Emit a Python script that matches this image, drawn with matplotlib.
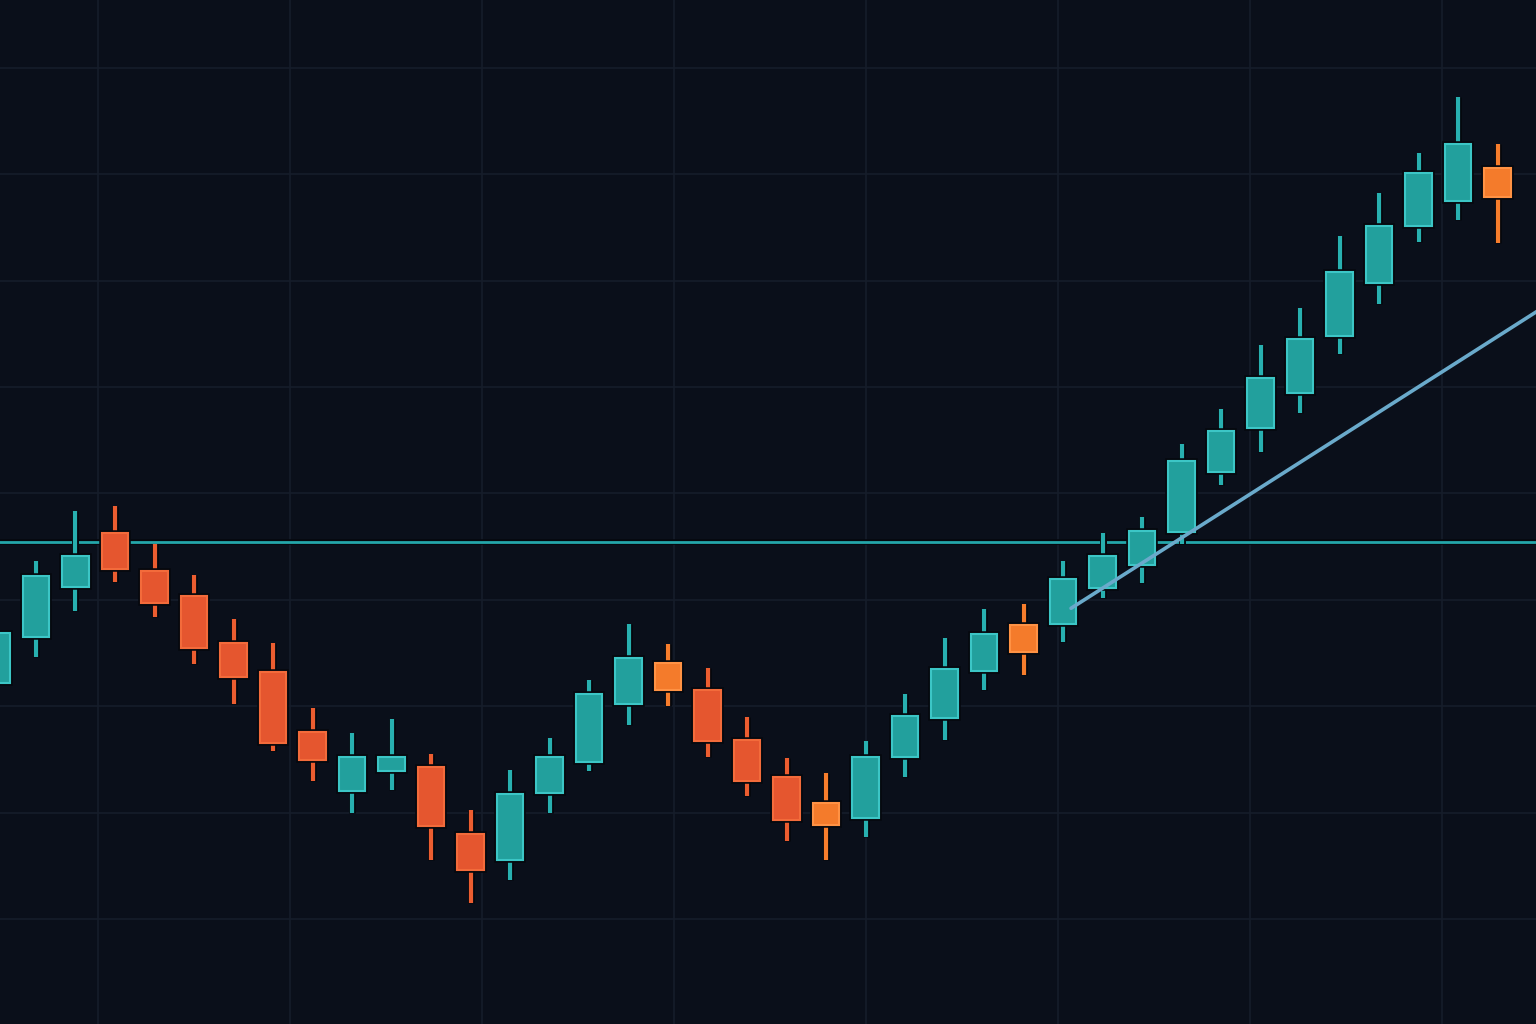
import matplotlib
matplotlib.use("Agg")
import matplotlib.pyplot as plt
import matplotlib.patheffects as pe
import numpy as np

# candle data (index = session)
opens = [122.2, 126.5, 131.2, 136.3, 132.7, 130.4, 125.9, 123.2, 117.6, 112.0,
         113.9, 114.3, 108.0, 105.5, 111.8, 114.8, 120.2, 124.1, 121.5, 116.8,
         113.3, 110.9, 109.5, 115.2, 118.9, 123.3, 127.6, 127.7, 131.1, 133.3,
         136.4, 142.0, 146.1, 149.4, 154.8, 159.8, 165.1, 167.5, 170.6]
highs = [128.0, 133.6, 138.3, 138.8, 135.2, 132.3, 128.2, 125.9, 119.8, 117.5,
         118.8, 115.5, 110.2, 114.0, 117.0, 122.5, 127.7, 125.8, 123.6, 119.0,
         115.1, 113.7, 116.7, 121.1, 126.4, 129.1, 129.6, 133.6, 136.3, 137.8,
         144.6, 147.9, 153.9, 157.4, 164.2, 168.2, 172.0, 177.3, 172.8]
lows = [121.0, 124.6, 128.9, 131.7, 128.4, 124.0, 120.2, 115.8, 113.0, 110.0,
        112.1, 105.5, 101.5, 103.7, 110.0, 113.9, 118.2, 120.0, 115.2, 111.6,
        107.3, 105.5, 107.7, 113.3, 116.8, 121.5, 122.9, 126.0, 130.2, 131.6,
        135.2, 140.8, 143.9, 147.6, 153.1, 157.8, 163.6, 165.7, 163.5]
closes = [126.9, 132.2, 134.1, 132.9, 129.7, 125.5, 122.7, 116.5, 114.9, 115.2,
          115.2, 108.7, 104.6, 111.7, 115.2, 121.1, 124.5, 121.5, 116.7, 113.0,
          109.3, 108.8, 115.2, 119.1, 123.5, 126.8, 125.1, 132.0, 134.1, 136.5,
          143.0, 145.9, 150.8, 154.5, 160.8, 165.1, 170.1, 172.8, 167.9]
# bearish candles drawn in the lighter orange tone
orange_idx = [17, 21, 26, 38]

level = 135.4
trend_x = [27.2, 39.5]
trend_y = [129.2, 158.3]

bg = "#0a0f1a"
up_face, up_edge, up_wick = "#22a09d", "#3cc6c6", "#28b0b0"
dn_face, dn_edge, dn_wick = "#e5562f", "#f36b3b", "#ec5d30"
or_face, or_edge, or_wick = "#f47b2b", "#ff9244", "#f77d2c"

x = np.arange(len(opens))
o = np.array(opens)
c = np.array(closes)

faces, edges, wicks = [], [], []
for i in x:
    if c[i] >= o[i]:
        faces.append(up_face); edges.append(up_edge); wicks.append(up_wick)
    elif i in orange_idx:
        faces.append(or_face); edges.append(or_edge); wicks.append(or_wick)
    else:
        faces.append(dn_face); edges.append(dn_edge); wicks.append(dn_wick)

fig = plt.figure(figsize=(15.36, 10.24), dpi=100, facecolor=bg)
ax = fig.add_axes([0, 0, 1, 1], facecolor=bg)

outline = [pe.withStroke(linewidth=5, foreground="#05080e")]

ax.vlines(x, lows, highs, colors=wicks, linewidth=3, zorder=3,
          path_effects=outline)
ax.bar(x, np.abs(c - o), bottom=np.minimum(o, c), width=0.67, color=faces,
       edgecolor=edges, linewidth=1.5, zorder=4,
       path_effects=[pe.withStroke(linewidth=4, foreground="#05080e")])

ax.axhline(level, color="#24a6aa", linewidth=2, zorder=2,
           path_effects=[pe.withStroke(linewidth=4, foreground="#05080e")])
ax.plot(trend_x, trend_y, color="#6aaacb", linewidth=2.6, zorder=5,
        solid_capstyle="round")

ax.set_xlim(0.089, 38.97)
ax.set_ylim(90.13, 186.37)
ax.set_yticks(np.arange(100, 190, 10))
ax.set_xticks(2.57 + 4.861 * np.arange(8))
ax.grid(True, color="#161d2a", linewidth=1.2, zorder=0)
ax.tick_params(length=0, labelbottom=False, labelleft=False)
for s in ax.spines.values():
    s.set_visible(False)

fig.savefig("out.png", dpi=100, facecolor=bg)
